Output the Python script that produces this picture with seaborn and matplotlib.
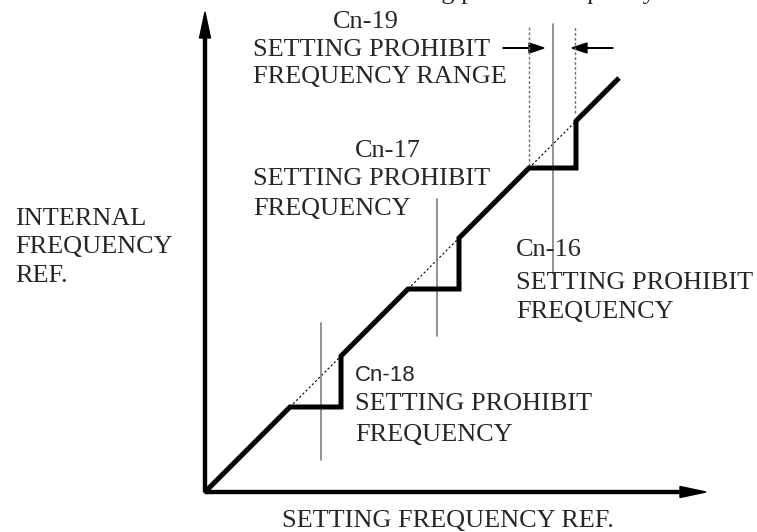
import matplotlib
matplotlib.use("Agg")
import matplotlib.pyplot as plt
import seaborn as sns
import numpy as np

# ---- data (units: frequency, origin at 0) ----
plateau_start = [85, 203, 324]      # setting freq where each prohibit band begins
plateau_end = [136, 254, 371]       # setting freq where each prohibit band ends
prohibit_center = [116, 232, 348]   # Cn-18, Cn-17, Cn-16 set points
line_end = 414

# build the output (internal ref) staircase
xs, ys = [0], [0]
for s, e in zip(plateau_start, plateau_end):
    xs += [s, e, e]
    ys += [s, s, e]
xs.append(line_end)
ys.append(line_end)

sns.set_style("white")
plt.rcParams['font.family'] = ['Liberation Serif', 'DejaVu Serif']

W, H = 757, 532
fig = plt.figure(figsize=(W / 100, H / 100), dpi=100)
ax = fig.add_axes([0, 0, 1, 1])
ox, oy = 205, 492
ax.set_xlim(-ox, W - ox)
ax.set_ylim(oy - H, oy)
ax.axis('off')

# axes arrows
ax.arrow(0, 0, 501, 0, width=3, head_width=11, head_length=26,
         length_includes_head=True, color='black', zorder=5)
ax.arrow(0, 0, 0, 480, width=3, head_width=11, head_length=26,
         length_includes_head=True, color='black', zorder=5)

# thin dotted ideal line across each band
for s, e in zip(plateau_start, plateau_end):
    ax.plot([s, e], [s, e], color='black', lw=0.8, ls=(0, (2, 2)))

# gray vertical set-point lines
gray_spans = [(32, 169), (156, 293), (218, 468)]
for c, (y0, y1) in zip(prohibit_center, gray_spans):
    ax.plot([c, c], [y0, y1], color='#808080', lw=1.2)

# dotted vertical range limits for Cn-19
ax.plot([plateau_start[2]] * 2, [326, 466], color='#707070', lw=1.0, ls=(0, (2, 1.5)))
ax.plot([plateau_end[2] - 1] * 2, [379, 466], color='#707070', lw=1.0, ls=(0, (2, 1.5)))

# range arrows
ax.arrow(298, 444, 41, 0, width=0.6, head_width=10, head_length=15,
         length_includes_head=True, color='black')
ax.arrow(408, 444, -41, 0, width=0.6, head_width=10, head_length=15,
         length_includes_head=True, color='black')

# main staircase
sns.lineplot(x=xs, y=ys, sort=False, estimator=None, color='black',
             lw=3.6, ax=ax, solid_joinstyle='miter', solid_capstyle='butt')

fs = 18.9
def t(px, py, s, **kw):
    ax.text(px - ox, oy - py, s, fontsize=kw.pop('fs', fs), va='baseline', ha='left', **kw)

# title (cut off at the top)
t(380, -1, "Setting prohibit frequency")

t(333, 28, "Cn-19")
t(253, 56, "SETTING PROHIBIT")
t(253, 83, "FREQUENCY RANGE")

t(355, 157, "Cn-17")
t(253, 185, "SETTING PROHIBIT")
t(253, 215, "FREQUENCY")

t(15, 225, "INTERNAL")
t(15, 253, "FREQUENCY")
t(15, 282, "REF.")

t(516, 256, "Cn-16")
t(516, 289, "SETTING PROHIBIT")
t(516, 318, "FREQUENCY")

t(355, 381, "Cn-18", family='Liberation Sans', fs=16)
t(355, 410, "SETTING PROHIBIT")
t(355, 441, "FREQUENCY")

t(282, 527, "SETTING FREQUENCY REF.")

fig.savefig("out.png", dpi=100)
